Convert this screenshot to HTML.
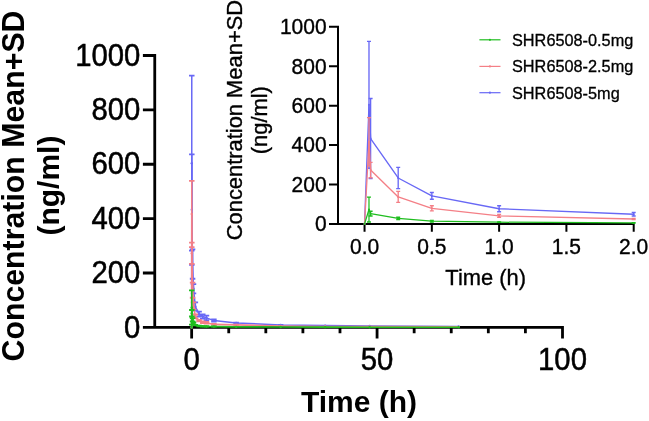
<!DOCTYPE html><html><head><meta charset="utf-8"><style>html,body{margin:0;padding:0;background:#fff;overflow:hidden}svg{display:block;will-change:transform}text{font-family:"Liberation Sans",sans-serif}</style></head><body>
<svg width="649" height="421" viewBox="0 0 649 421">
<rect width="649" height="421" fill="#fff"/>
<path d="M154.75 54.1V327.4M142.9 327.4H563.9M142.9 273.02H154.75M142.9 218.64H154.75M142.9 164.26H154.75M142.9 109.88H154.75M142.9 55.5H154.75M191.65 327.4V338.6M228.74 327.4V333.3M265.82 327.4V333.3M302.9 327.4V333.3M339.99 327.4V333.3M377.07 327.4V338.6M414.16 327.4V333.3M451.25 327.4V333.3M488.33 327.4V333.3M525.41 327.4V333.3M562.5 327.4V338.6" stroke="#000" stroke-width="2.8" fill="none"/>
<polyline points="191.65,327.4 191.77,163.17 191.82,209.67 192.58,264.05 193.5,288.79 195.36,306.46 199.07,314.08 202.78,316.52 206.48,317.88 213.9,320.6 236.15,322.89 280.65,324.95 325.16,325.61 369.66,325.9 458.66,326.39" fill="none" stroke="#6868f5" stroke-width="1.5" stroke-linejoin="round"/>
<path d="M191.77 75.62V250.72" stroke="#6868f5" stroke-width="1.5" fill="none"/>
<path d="M189.02 75.62H194.52M189.02 250.72H194.52" stroke="#6868f5" stroke-width="1.8" fill="none"/>
<path d="M191.82 154.47V264.86" stroke="#6868f5" stroke-width="1.5" fill="none"/>
<path d="M189.07 154.47H194.57M189.07 264.86H194.57" stroke="#6868f5" stroke-width="1.8" fill="none"/>
<path d="M192.58 249.36V278.73" stroke="#6868f5" stroke-width="1.5" fill="none"/>
<path d="M189.83 249.36H195.33M189.83 278.73H195.33" stroke="#6868f5" stroke-width="1.8" fill="none"/>
<path d="M193.5 284.17V293.41" stroke="#6868f5" stroke-width="1.5" fill="none"/>
<path d="M190.75 284.17H196.25M190.75 293.41H196.25" stroke="#6868f5" stroke-width="1.8" fill="none"/>
<path d="M195.36 302.39V310.54" stroke="#6868f5" stroke-width="1.5" fill="none"/>
<path d="M192.61 302.39H198.11M192.61 310.54H198.11" stroke="#6868f5" stroke-width="1.8" fill="none"/>
<path d="M199.07 311.63V316.52" stroke="#6868f5" stroke-width="1.5" fill="none"/>
<path d="M196.32 311.63H201.82M196.32 316.52H201.82" stroke="#6868f5" stroke-width="1.8" fill="none"/>
<path d="M202.78 314.35V318.7" stroke="#6868f5" stroke-width="1.5" fill="none"/>
<path d="M200.03 314.35H205.53M200.03 318.7H205.53" stroke="#6868f5" stroke-width="1.8" fill="none"/>
<path d="M206.48 315.71V320.06" stroke="#6868f5" stroke-width="1.5" fill="none"/>
<path d="M203.73 315.71H209.23M203.73 320.06H209.23" stroke="#6868f5" stroke-width="1.8" fill="none"/>
<path d="M213.9 319.51V321.69" stroke="#6868f5" stroke-width="1.5" fill="none"/>
<path d="M211.15 319.51H216.65M211.15 321.69H216.65" stroke="#6868f5" stroke-width="1.8" fill="none"/>
<path d="M236.15 322.61V323.16" stroke="#6868f5" stroke-width="1.5" fill="none"/>
<path d="M233.4 322.61H238.9M233.4 323.16H238.9" stroke="#6868f5" stroke-width="1.8" fill="none"/>
<path d="M280.65 324.82V325.09" stroke="#6868f5" stroke-width="1.5" fill="none"/>
<path d="M277.9 324.82H283.4M277.9 325.09H283.4" stroke="#6868f5" stroke-width="1.8" fill="none"/>
<circle cx="191.65" cy="327.4" r="1.2" fill="#6868f5"/>
<circle cx="191.77" cy="163.17" r="1.2" fill="#6868f5"/>
<circle cx="191.82" cy="209.67" r="1.2" fill="#6868f5"/>
<circle cx="192.58" cy="264.05" r="1.2" fill="#6868f5"/>
<circle cx="193.5" cy="288.79" r="1.2" fill="#6868f5"/>
<circle cx="195.36" cy="306.46" r="1.2" fill="#6868f5"/>
<circle cx="199.07" cy="314.08" r="1.2" fill="#6868f5"/>
<circle cx="202.78" cy="316.52" r="1.2" fill="#6868f5"/>
<circle cx="206.48" cy="317.88" r="1.2" fill="#6868f5"/>
<circle cx="213.9" cy="320.6" r="1.2" fill="#6868f5"/>
<circle cx="236.15" cy="322.89" r="1.2" fill="#6868f5"/>
<circle cx="280.65" cy="324.95" r="1.2" fill="#6868f5"/>
<circle cx="325.16" cy="325.61" r="1.2" fill="#6868f5"/>
<circle cx="369.66" cy="325.9" r="1.2" fill="#6868f5"/>
<circle cx="458.66" cy="326.39" r="1.2" fill="#6868f5"/>
<polyline points="191.65,327.4 191.77,214.02 191.82,253.17 192.58,290.15 193.5,305.92 195.36,316.39 199.07,320.6 202.78,322.23 206.48,322.78 213.9,324.41 236.15,324.9 280.65,326.04 325.16,326.45 369.66,326.58 458.66,326.86" fill="none" stroke="#f47f86" stroke-width="1.6" stroke-linejoin="round"/>
<path d="M191.77 180.85V247.19" stroke="#f47f86" stroke-width="1.6" fill="none"/>
<path d="M189.02 180.85H194.52M189.02 247.19H194.52" stroke="#f47f86" stroke-width="1.8" fill="none"/>
<path d="M191.82 242.57V263.78" stroke="#f47f86" stroke-width="1.6" fill="none"/>
<path d="M189.07 242.57H194.57M189.07 263.78H194.57" stroke="#f47f86" stroke-width="1.8" fill="none"/>
<path d="M192.58 282.54V297.76" stroke="#f47f86" stroke-width="1.6" fill="none"/>
<path d="M189.83 282.54H195.33M189.83 297.76H195.33" stroke="#f47f86" stroke-width="1.8" fill="none"/>
<path d="M193.5 302.39V309.45" stroke="#f47f86" stroke-width="1.6" fill="none"/>
<path d="M190.75 302.39H196.25M190.75 309.45H196.25" stroke="#f47f86" stroke-width="1.8" fill="none"/>
<path d="M195.36 314.48V318.29" stroke="#f47f86" stroke-width="1.6" fill="none"/>
<path d="M192.61 314.48H198.11M192.61 318.29H198.11" stroke="#f47f86" stroke-width="1.8" fill="none"/>
<path d="M199.07 319.79V321.42" stroke="#f47f86" stroke-width="1.6" fill="none"/>
<path d="M196.32 319.79H201.82M196.32 321.42H201.82" stroke="#f47f86" stroke-width="1.8" fill="none"/>
<path d="M202.78 321.42V323.05" stroke="#f47f86" stroke-width="1.6" fill="none"/>
<path d="M200.03 321.42H205.53M200.03 323.05H205.53" stroke="#f47f86" stroke-width="1.8" fill="none"/>
<path d="M206.48 321.96V323.59" stroke="#f47f86" stroke-width="1.6" fill="none"/>
<path d="M203.73 321.96H209.23M203.73 323.59H209.23" stroke="#f47f86" stroke-width="1.8" fill="none"/>
<path d="M213.9 323.87V324.95" stroke="#f47f86" stroke-width="1.6" fill="none"/>
<path d="M211.15 323.87H216.65M211.15 324.95H216.65" stroke="#f47f86" stroke-width="1.8" fill="none"/>
<path d="M236.15 324.76V325.03" stroke="#f47f86" stroke-width="1.6" fill="none"/>
<path d="M233.4 324.76H238.9M233.4 325.03H238.9" stroke="#f47f86" stroke-width="1.8" fill="none"/>
<circle cx="191.65" cy="327.4" r="1.2" fill="#f47f86"/>
<circle cx="191.77" cy="214.02" r="1.2" fill="#f47f86"/>
<circle cx="191.82" cy="253.17" r="1.2" fill="#f47f86"/>
<circle cx="192.58" cy="290.15" r="1.2" fill="#f47f86"/>
<circle cx="193.5" cy="305.92" r="1.2" fill="#f47f86"/>
<circle cx="195.36" cy="316.39" r="1.2" fill="#f47f86"/>
<circle cx="199.07" cy="320.6" r="1.2" fill="#f47f86"/>
<circle cx="202.78" cy="322.23" r="1.2" fill="#f47f86"/>
<circle cx="206.48" cy="322.78" r="1.2" fill="#f47f86"/>
<circle cx="213.9" cy="324.41" r="1.2" fill="#f47f86"/>
<circle cx="236.15" cy="324.9" r="1.2" fill="#f47f86"/>
<circle cx="280.65" cy="326.04" r="1.2" fill="#f47f86"/>
<circle cx="325.16" cy="326.45" r="1.2" fill="#f47f86"/>
<circle cx="369.66" cy="326.58" r="1.2" fill="#f47f86"/>
<circle cx="458.66" cy="326.86" r="1.2" fill="#f47f86"/>
<polyline points="191.65,327.4 191.77,307.55 191.82,313.26 192.58,319.79 193.5,323.59 195.36,325.06 199.07,326.04 202.78,326.31 206.48,326.45 213.9,326.58 236.15,326.86 280.65,326.99 325.16,327.13 369.66,327.18 458.66,327.26" fill="none" stroke="#1fbd1f" stroke-width="1.6" stroke-linejoin="round"/>
<path d="M191.77 290.42V324.68" stroke="#1fbd1f" stroke-width="1.6" fill="none"/>
<path d="M189.02 290.42H194.52M189.02 324.68H194.52" stroke="#1fbd1f" stroke-width="1.8" fill="none"/>
<path d="M191.82 310V316.52" stroke="#1fbd1f" stroke-width="1.6" fill="none"/>
<path d="M189.07 310H194.57M189.07 316.52H194.57" stroke="#1fbd1f" stroke-width="1.8" fill="none"/>
<path d="M192.58 318.16V321.42" stroke="#1fbd1f" stroke-width="1.6" fill="none"/>
<path d="M189.83 318.16H195.33M189.83 321.42H195.33" stroke="#1fbd1f" stroke-width="1.8" fill="none"/>
<path d="M193.5 322.51V324.68" stroke="#1fbd1f" stroke-width="1.6" fill="none"/>
<path d="M190.75 322.51H196.25M190.75 324.68H196.25" stroke="#1fbd1f" stroke-width="1.8" fill="none"/>
<path d="M195.36 324.79V325.33" stroke="#1fbd1f" stroke-width="1.6" fill="none"/>
<path d="M192.61 324.79H198.11M192.61 325.33H198.11" stroke="#1fbd1f" stroke-width="1.8" fill="none"/>
<path d="M199.07 325.77V326.31" stroke="#1fbd1f" stroke-width="1.6" fill="none"/>
<path d="M196.32 325.77H201.82M196.32 326.31H201.82" stroke="#1fbd1f" stroke-width="1.8" fill="none"/>
<path d="M202.78 326.04V326.58" stroke="#1fbd1f" stroke-width="1.6" fill="none"/>
<path d="M200.03 326.04H205.53M200.03 326.58H205.53" stroke="#1fbd1f" stroke-width="1.8" fill="none"/>
<path d="M206.48 326.18V326.72" stroke="#1fbd1f" stroke-width="1.6" fill="none"/>
<path d="M203.73 326.18H209.23M203.73 326.72H209.23" stroke="#1fbd1f" stroke-width="1.8" fill="none"/>
<path d="M213.9 326.45V326.72" stroke="#1fbd1f" stroke-width="1.6" fill="none"/>
<path d="M211.15 326.45H216.65M211.15 326.72H216.65" stroke="#1fbd1f" stroke-width="1.8" fill="none"/>
<circle cx="191.65" cy="327.4" r="1.2" fill="#1fbd1f"/>
<circle cx="191.77" cy="307.55" r="1.2" fill="#1fbd1f"/>
<circle cx="191.82" cy="313.26" r="1.2" fill="#1fbd1f"/>
<circle cx="192.58" cy="319.79" r="1.2" fill="#1fbd1f"/>
<circle cx="193.5" cy="323.59" r="1.2" fill="#1fbd1f"/>
<circle cx="195.36" cy="325.06" r="1.2" fill="#1fbd1f"/>
<circle cx="199.07" cy="326.04" r="1.2" fill="#1fbd1f"/>
<circle cx="202.78" cy="326.31" r="1.2" fill="#1fbd1f"/>
<circle cx="206.48" cy="326.45" r="1.2" fill="#1fbd1f"/>
<circle cx="213.9" cy="326.58" r="1.2" fill="#1fbd1f"/>
<circle cx="236.15" cy="326.86" r="1.2" fill="#1fbd1f"/>
<circle cx="280.65" cy="326.99" r="1.2" fill="#1fbd1f"/>
<circle cx="325.16" cy="327.13" r="1.2" fill="#1fbd1f"/>
<circle cx="369.66" cy="327.18" r="1.2" fill="#1fbd1f"/>
<circle cx="458.66" cy="327.26" r="1.2" fill="#1fbd1f"/>
<g stroke="#000" stroke-width="0.5">
<text transform="translate(140.3 337.6) scale(1 1.04)" font-size="29.3" text-anchor="end">0</text>
<text transform="translate(140.3 283.22) scale(1 1.04)" font-size="29.3" text-anchor="end">200</text>
<text transform="translate(140.3 228.84) scale(1 1.04)" font-size="29.3" text-anchor="end">400</text>
<text transform="translate(140.3 174.46) scale(1 1.04)" font-size="29.3" text-anchor="end">600</text>
<text transform="translate(140.3 120.08) scale(1 1.04)" font-size="29.3" text-anchor="end">800</text>
<text transform="translate(140.3 65.7) scale(1 1.04)" font-size="29.3" text-anchor="end">1000</text>
<text transform="translate(191.65 369.5) scale(1 1.04)" font-size="29.3" text-anchor="middle">0</text>
<text transform="translate(377.07 369.5) scale(1 1.04)" font-size="29.3" text-anchor="middle">50</text>
<text transform="translate(562.5 369.5) scale(1 1.04)" font-size="29.3" text-anchor="middle">100</text>
</g>
<text x="359" y="412" font-size="30" font-weight="bold" text-anchor="middle">Time (h)</text>
<text transform="translate(23.6 186) rotate(-90) scale(1 1.06)" font-size="30.3" font-weight="bold" text-anchor="middle">Concentration Mean+SD</text>
<text transform="translate(58.5 185.6) rotate(-90)" font-size="30" font-weight="bold" text-anchor="middle">(ng/ml)</text>
<rect x="325" y="0" width="324" height="232" fill="#fff"/>
<path d="M338 25.8V223.9M329 223.9H634.7M329 184.48H338M329 145.06H338M329 105.64H338M329 66.22H338M329 26.8H338M364.55 223.9V231.8M431.84 223.9V231.8M499.12 223.9V231.8M566.41 223.9V231.8M633.7 223.9V231.8" stroke="#000" stroke-width="2.0" fill="none"/>
<polyline points="364.55,223.9 368.99,104.85 370.61,138.56 398.19,177.98 431.84,195.91 499.12,208.72 633.7,214.24" fill="none" stroke="#6868f5" stroke-width="1.35" stroke-linejoin="round"/>
<path d="M368.99 41.39V168.32" stroke="#6868f5" stroke-width="1.35" fill="none"/>
<path d="M366.99 41.39H370.99M366.99 168.32H370.99" stroke="#6868f5" stroke-width="1.4" fill="none"/>
<path d="M370.61 98.54V178.57" stroke="#6868f5" stroke-width="1.35" fill="none"/>
<path d="M368.61 98.54H372.61M368.61 178.57H372.61" stroke="#6868f5" stroke-width="1.4" fill="none"/>
<path d="M398.19 167.33V188.62" stroke="#6868f5" stroke-width="1.35" fill="none"/>
<path d="M396.19 167.33H400.19M396.19 188.62H400.19" stroke="#6868f5" stroke-width="1.4" fill="none"/>
<path d="M431.84 192.56V199.26" stroke="#6868f5" stroke-width="1.35" fill="none"/>
<path d="M429.84 192.56H433.84M429.84 199.26H433.84" stroke="#6868f5" stroke-width="1.4" fill="none"/>
<path d="M499.12 205.77V211.68" stroke="#6868f5" stroke-width="1.35" fill="none"/>
<path d="M497.12 205.77H501.12M497.12 211.68H501.12" stroke="#6868f5" stroke-width="1.4" fill="none"/>
<path d="M633.7 212.47V216.02" stroke="#6868f5" stroke-width="1.35" fill="none"/>
<path d="M631.7 212.47H635.7M631.7 216.02H635.7" stroke="#6868f5" stroke-width="1.4" fill="none"/>
<circle cx="364.55" cy="223.9" r="1.0" fill="#6868f5"/>
<circle cx="368.99" cy="104.85" r="1.0" fill="#6868f5"/>
<circle cx="370.61" cy="138.56" r="1.0" fill="#6868f5"/>
<circle cx="398.19" cy="177.98" r="1.0" fill="#6868f5"/>
<circle cx="431.84" cy="195.91" r="1.0" fill="#6868f5"/>
<circle cx="499.12" cy="208.72" r="1.0" fill="#6868f5"/>
<circle cx="633.7" cy="214.24" r="1.0" fill="#6868f5"/>
<polyline points="364.55,223.9 368.99,141.71 370.61,170.09 398.19,196.9 431.84,208.33 499.12,215.92 633.7,218.97" fill="none" stroke="#f47f86" stroke-width="1.35" stroke-linejoin="round"/>
<path d="M368.99 117.66V165.76" stroke="#f47f86" stroke-width="1.35" fill="none"/>
<path d="M366.99 117.66H370.99M366.99 165.76H370.99" stroke="#f47f86" stroke-width="1.4" fill="none"/>
<path d="M370.61 162.4V177.78" stroke="#f47f86" stroke-width="1.35" fill="none"/>
<path d="M368.61 162.4H372.61M368.61 177.78H372.61" stroke="#f47f86" stroke-width="1.4" fill="none"/>
<path d="M398.19 191.38V202.42" stroke="#f47f86" stroke-width="1.35" fill="none"/>
<path d="M396.19 191.38H400.19M396.19 202.42H400.19" stroke="#f47f86" stroke-width="1.4" fill="none"/>
<path d="M431.84 205.77V210.89" stroke="#f47f86" stroke-width="1.35" fill="none"/>
<path d="M429.84 205.77H433.84M429.84 210.89H433.84" stroke="#f47f86" stroke-width="1.4" fill="none"/>
<path d="M499.12 214.54V217.3" stroke="#f47f86" stroke-width="1.35" fill="none"/>
<path d="M497.12 214.54H501.12M497.12 217.3H501.12" stroke="#f47f86" stroke-width="1.4" fill="none"/>
<path d="M633.7 218.38V219.56" stroke="#f47f86" stroke-width="1.35" fill="none"/>
<path d="M631.7 218.38H635.7M631.7 219.56H635.7" stroke="#f47f86" stroke-width="1.4" fill="none"/>
<circle cx="364.55" cy="223.9" r="1.0" fill="#f47f86"/>
<circle cx="368.99" cy="141.71" r="1.0" fill="#f47f86"/>
<circle cx="370.61" cy="170.09" r="1.0" fill="#f47f86"/>
<circle cx="398.19" cy="196.9" r="1.0" fill="#f47f86"/>
<circle cx="431.84" cy="208.33" r="1.0" fill="#f47f86"/>
<circle cx="499.12" cy="215.92" r="1.0" fill="#f47f86"/>
<circle cx="633.7" cy="218.97" r="1.0" fill="#f47f86"/>
<polyline points="364.55,223.9 368.99,209.51 370.61,213.65 398.19,218.38 431.84,221.14 499.12,222.2 633.7,222.91" fill="none" stroke="#1fbd1f" stroke-width="1.25" stroke-linejoin="round"/>
<path d="M368.99 197.09V221.93" stroke="#1fbd1f" stroke-width="1.25" fill="none"/>
<path d="M366.99 197.09H370.99M366.99 221.93H370.99" stroke="#1fbd1f" stroke-width="1.4" fill="none"/>
<path d="M370.61 211.29V216.02" stroke="#1fbd1f" stroke-width="1.25" fill="none"/>
<path d="M368.61 211.29H372.61M368.61 216.02H372.61" stroke="#1fbd1f" stroke-width="1.4" fill="none"/>
<path d="M398.19 217.2V219.56" stroke="#1fbd1f" stroke-width="1.25" fill="none"/>
<path d="M396.19 217.2H400.19M396.19 219.56H400.19" stroke="#1fbd1f" stroke-width="1.4" fill="none"/>
<path d="M431.84 220.35V221.93" stroke="#1fbd1f" stroke-width="1.25" fill="none"/>
<path d="M429.84 220.35H433.84M429.84 221.93H433.84" stroke="#1fbd1f" stroke-width="1.4" fill="none"/>
<path d="M499.12 222.01V222.4" stroke="#1fbd1f" stroke-width="1.25" fill="none"/>
<path d="M497.12 222.01H501.12M497.12 222.4H501.12" stroke="#1fbd1f" stroke-width="1.4" fill="none"/>
<path d="M633.7 222.72V223.11" stroke="#1fbd1f" stroke-width="1.25" fill="none"/>
<path d="M631.7 222.72H635.7M631.7 223.11H635.7" stroke="#1fbd1f" stroke-width="1.4" fill="none"/>
<circle cx="364.55" cy="223.9" r="1.0" fill="#1fbd1f"/>
<circle cx="368.99" cy="209.51" r="1.0" fill="#1fbd1f"/>
<circle cx="370.61" cy="213.65" r="1.0" fill="#1fbd1f"/>
<circle cx="398.19" cy="218.38" r="1.0" fill="#1fbd1f"/>
<circle cx="431.84" cy="221.14" r="1.0" fill="#1fbd1f"/>
<circle cx="499.12" cy="222.2" r="1.0" fill="#1fbd1f"/>
<circle cx="633.7" cy="222.91" r="1.0" fill="#1fbd1f"/>
<g stroke="#000" stroke-width="0.35">
<text transform="translate(326.6 231.2) scale(1 1.05)" font-size="21.0" text-anchor="end">0</text>
<text transform="translate(326.6 191.78) scale(1 1.05)" font-size="21.0" text-anchor="end">200</text>
<text transform="translate(326.6 152.36) scale(1 1.05)" font-size="21.0" text-anchor="end">400</text>
<text transform="translate(326.6 112.94) scale(1 1.05)" font-size="21.0" text-anchor="end">600</text>
<text transform="translate(326.6 73.52) scale(1 1.05)" font-size="21.0" text-anchor="end">800</text>
<text transform="translate(326.6 34.1) scale(1 1.05)" font-size="21.0" text-anchor="end">1000</text>
<text transform="translate(364.55 254.4) scale(1 1.05)" font-size="21.0" text-anchor="middle">0.0</text>
<text transform="translate(431.84 254.4) scale(1 1.05)" font-size="21.0" text-anchor="middle">0.5</text>
<text transform="translate(499.12 254.4) scale(1 1.05)" font-size="21.0" text-anchor="middle">1.0</text>
<text transform="translate(566.41 254.4) scale(1 1.05)" font-size="21.0" text-anchor="middle">1.5</text>
<text transform="translate(633.7 254.4) scale(1 1.05)" font-size="21.0" text-anchor="middle">2.0</text>
<text x="485.7" y="284.6" font-size="21.9" text-anchor="middle">Time (h)</text>
<text transform="translate(242 120.1) rotate(-90)" font-size="21.9" text-anchor="middle">Concentration Mean+SD</text>
<text transform="translate(267 120.2) rotate(-90)" font-size="21.9" text-anchor="middle">(ng/ml)</text>
</g>
<line x1="479.4" y1="39.8" x2="500.5" y2="39.8" stroke="#1fbd1f" stroke-width="1.2"/>
<circle cx="489.95" cy="39.8" r="1.1" fill="#1fbd1f"/>
<text x="512" y="45.7" font-size="16.3" stroke="#000" stroke-width="0.3">SHR6508-0.5mg</text>
<line x1="479.4" y1="66.4" x2="500.5" y2="66.4" stroke="#f47f86" stroke-width="1.2"/>
<circle cx="489.95" cy="66.4" r="1.1" fill="#f47f86"/>
<text x="512" y="72.3" font-size="16.3" stroke="#000" stroke-width="0.3">SHR6508-2.5mg</text>
<line x1="479.4" y1="92.7" x2="500.5" y2="92.7" stroke="#6868f5" stroke-width="1.2"/>
<circle cx="489.95" cy="92.7" r="1.1" fill="#6868f5"/>
<text x="512" y="98.6" font-size="16.3" stroke="#000" stroke-width="0.3">SHR6508-5mg</text>
</svg></body></html>
